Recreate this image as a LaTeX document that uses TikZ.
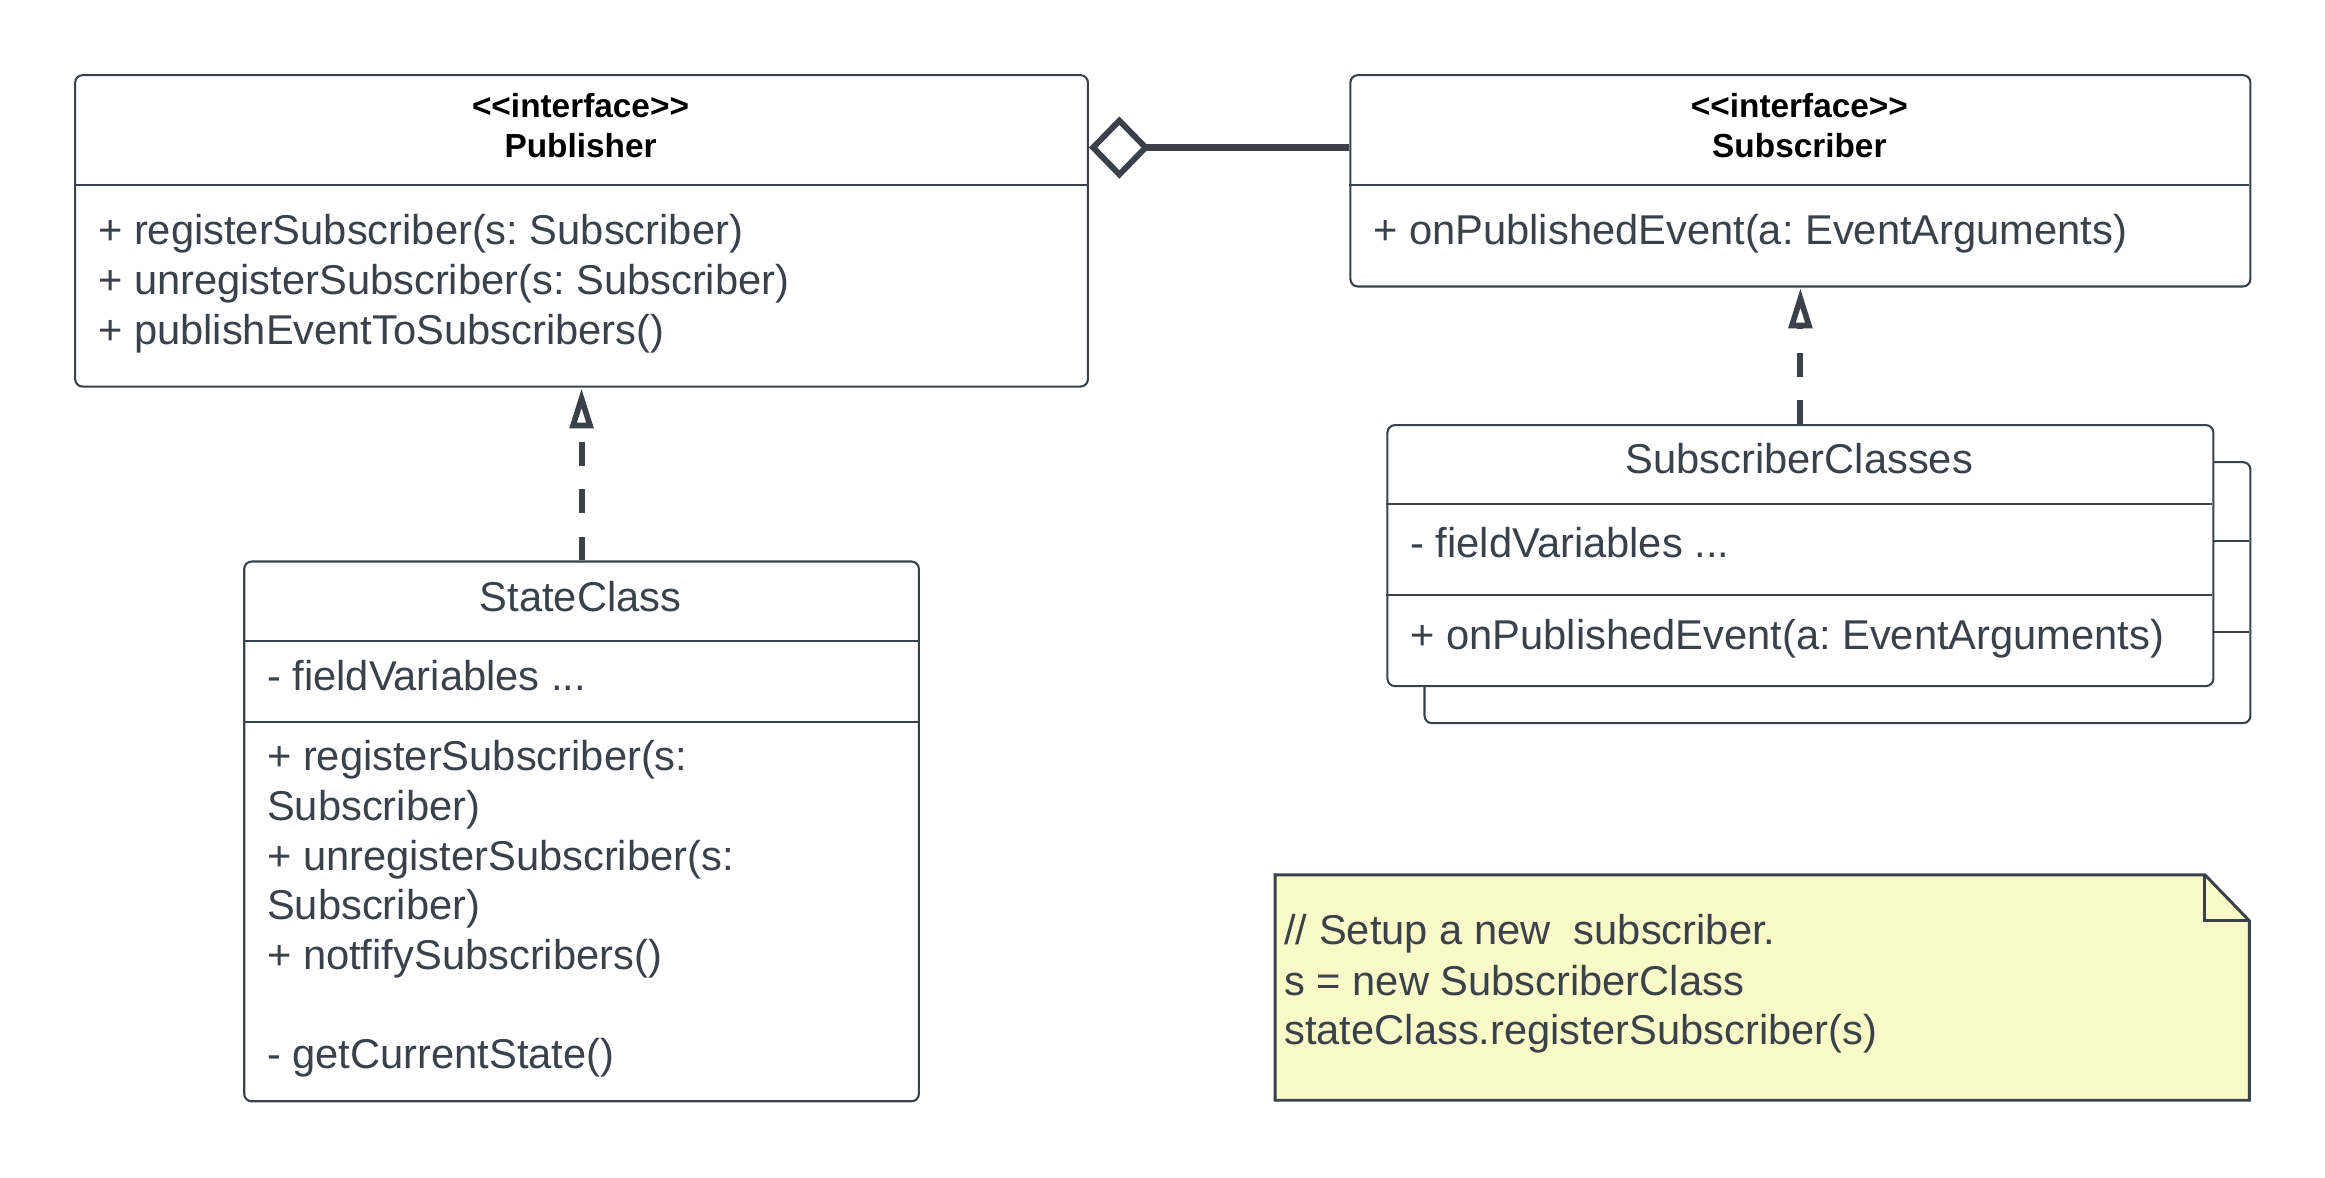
\documentclass[tikz,border=0pt]{standalone}
\usepackage{fontspec}
\setmainfont{Liberation Sans}[Ligatures=TeXOff]
\usetikzlibrary{arrows.meta}
\definecolor{lc}{HTML}{3A414A}
\definecolor{notefill}{HTML}{FAFAC8}
\frenchspacing
\begin{document}
\begin{tikzpicture}[x=1pt,y=-1pt,
  box/.style={draw=lc, line width=1.4pt, rounded corners=5pt, fill=white, inner sep=0pt, anchor=north west},
  divider/.style={draw=lc, line width=1.4pt},
  mtext/.style={anchor=base west, inner sep=0pt, text=lc, font=\fontsize{28.1}{33.5}\selectfont},
  ctext/.style={anchor=base, inner sep=0pt, text=lc, font=\fontsize{28.1}{33.5}\selectfont},
  itext/.style={anchor=base, inner sep=0pt, text=black, font=\fontsize{22.5}{27}\selectfont\bfseries},
  realize/.style={draw=lc, line width=4pt, dash pattern=on 16pt off 16pt, shorten >=0.5pt,
    -{Triangle[open, length=27pt, width=15.5pt, line width=3.8pt]}},
  agg/.style={draw=lc, line width=4.5pt, shorten >=0pt,
    -{Diamond[open, length=41pt, width=42pt, line width=4pt]}},
  notebox/.style={draw=lc, line width=2pt, fill=notefill}
]
\useasboundingbox (0,0) rectangle (1568,794.4);

% ---------- Publisher ----------
\node[box, minimum width=683pt, minimum height=210pt] (pub) at (50,50) {};
\draw[divider] (50,125) -- (733,125);
\node[itext] (pubst) at (391.5,79.2) {<<interface>>};
\node[itext] (pubnm) at (391.5,106.2) {Publisher};
\node[mtext] (pubm1) at (66,165.2) {+ registerSubscriber(s: Subscriber)};
\node[mtext] (pubm2) at (66,198.9) {+ unregisterSubscriber(s: Subscriber)};
\node[mtext] (pubm3) at (66,232.6) {+ publishEventToSubscribers()};

% ---------- Subscriber ----------
\node[box, minimum width=607pt, minimum height=142.5pt] (sub) at (910,50) {};
\draw[divider] (910,125) -- (1517,125);
\node[itext] (subst) at (1213.5,79.2) {<<interface>>};
\node[itext] (subnm) at (1213.5,106.2) {Subscriber};
\node[mtext] (subm1) at (926,165.2) {+ onPublishedEvent(a: EventArguments)};

% ---------- StateClass ----------
\node[box, minimum width=455pt, minimum height=364pt] (stcls) at (164,378) {};
\draw[divider] (164,432) -- (619,432);
\draw[divider] (164,487) -- (619,487);
\node[ctext] (stnm) at (391.5,412.5) {StateClass};
\node[mtext] (stf1) at (180,465.5) {- fieldVariables ...};
\node[mtext] (stm1) at (180,519.8) {+ registerSubscriber(s:};
\node[mtext] (stm2) at (180,553.3) {Subscriber)};
\node[mtext] (stm3) at (180,586.8) {+ unregisterSubscriber(s:};
\node[mtext] (stm4) at (180,620.3) {Subscriber)};
\node[mtext] (stm5) at (180,653.8) {+ notfifySubscribers()};
\node[mtext] (stm6) at (180,720.8) {- getCurrentState()};

% ---------- SubscriberClasses (stacked) ----------
\node[box, minimum width=557pt, minimum height=176pt] (subclsback) at (960,311) {};
\draw[divider] (960,365) -- (1517,365);
\draw[divider] (960,426) -- (1517,426);
\node[box, minimum width=557pt, minimum height=176pt] (subcls) at (935,286) {};
\draw[divider] (935,340) -- (1492,340);
\draw[divider] (935,401) -- (1492,401);
\node[ctext] (scnm) at (1213.5,319.3) {SubscriberClasses};
\node[mtext] (scf1) at (951,376.3) {- fieldVariables ...};
\node[mtext] (scm1) at (951,438.3) {+ onPublishedEvent(a: EventArguments)};

% ---------- Note ----------
\draw[notebox] (860,590) -- (1487,590) -- (1517,621) -- (1517,742) -- (860,742) -- cycle;
\draw[draw=lc, line width=2pt] (1487,590) -- (1487,621) -- (1517,621);
\node[mtext] (nt1) at (866,637.2) {// Setup a new\ \ subscriber.};
\node[mtext] (nt2) at (866,671.2) {s = new SubscriberClass};
\node[mtext] (nt3) at (866,704.2) {stateClass.registerSubscriber(s)};

% ---------- Connectors ----------
\coordinate (aggP) at ([yshift=-49.5pt]pub.north east);
\coordinate (aggS) at ([yshift=-49.5pt]sub.north west);
\draw[agg] (aggS) -- (aggP);
\draw[realize] (stcls.north) -- (pub.south);
\draw[realize] (subcls.north) -- (sub.south);
\end{tikzpicture}
\end{document}
